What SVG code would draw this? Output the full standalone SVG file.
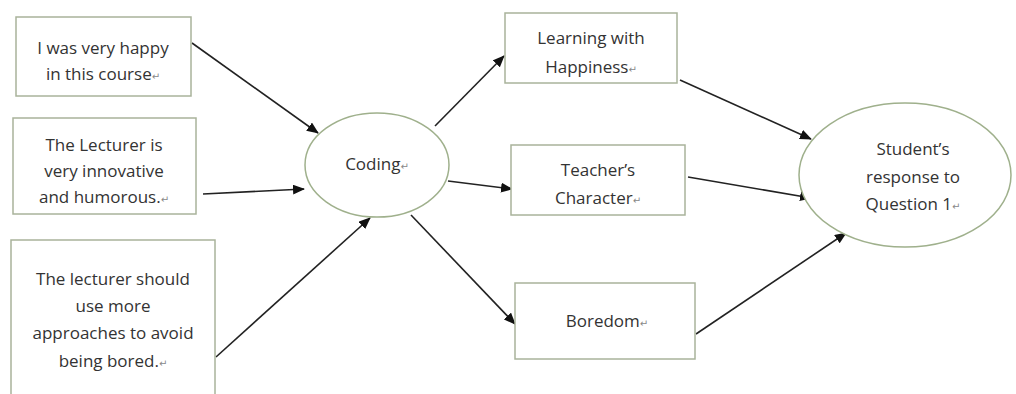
<svg xmlns="http://www.w3.org/2000/svg" width="1016" height="394" viewBox="0 0 1016 394">
<style>
.box{fill:#fff;stroke:#a9b39b;stroke-width:1.5}
.ell{fill:#fff;stroke:#9fb08c;stroke-width:1.5}
.t{font-family:"Open Sans","Noto Sans",sans-serif;font-size:17px;fill:#333;text-anchor:middle}
.r{font-family:"DejaVu Sans",sans-serif;font-size:10px;fill:#888}
.c{stroke:#222;stroke-width:1.6;fill:none;marker-end:url(#ah)}
</style>
<defs>
<marker id="ah" viewBox="0 0 12 10" refX="11" refY="5" markerWidth="12" markerHeight="10" markerUnits="userSpaceOnUse" orient="auto">
<path d="M0,0 L12,5 L0,10 z" fill="#111"/>
</marker>
</defs>
<rect width="1016" height="394" fill="#fff"/>
<g id="connectors">
<line class="c" x1="192" y1="43" x2="318" y2="133"/>
<line class="c" x1="203" y1="194" x2="304" y2="189"/>
<line class="c" x1="216" y1="357" x2="370" y2="218"/>
<line class="c" x1="435" y1="126" x2="504" y2="56"/>
<line class="c" x1="448" y1="181" x2="512" y2="189"/>
<line class="c" x1="411" y1="215" x2="515" y2="324"/>
<line class="c" x1="680" y1="80" x2="811" y2="139"/>
<line class="c" x1="688" y1="177" x2="811" y2="198"/>
<line class="c" x1="696" y1="334" x2="846" y2="233"/>
</g>
<g id="n1">
<rect class="box" x="16" y="17" width="175" height="79"/>
<text class="t" x="103" y="54">I was very happy</text>
<text class="t" x="103" y="80">in this course<tspan class="r">↵</tspan></text>
</g>
<g id="n2">
<rect class="box" x="13" y="118" width="183" height="96"/>
<text class="t" x="104" y="151">The Lecturer is</text>
<text class="t" x="104" y="177">very innovative</text>
<text class="t" x="104" y="203">and humorous.<tspan class="r">↵</tspan></text>
</g>
<g id="n3">
<rect class="box" x="11" y="240" width="204" height="160"/>
<text class="t" x="113" y="285">The lecturer should</text>
<text class="t" x="113" y="312">use more</text>
<text class="t" x="113" y="339">approaches to avoid</text>
<text class="t" x="113" y="367">being bored.<tspan class="r">↵</tspan></text>
</g>
<g id="coding">
<ellipse class="ell" cx="377" cy="165" rx="72" ry="52"/>
<text class="t" x="377" y="170">Coding<tspan class="r">↵</tspan></text>
</g>
<g id="learning">
<rect class="box" x="505" y="13" width="172" height="70"/>
<text class="t" x="591" y="44">Learning with</text>
<text class="t" x="591" y="73">Happiness<tspan class="r">↵</tspan></text>
</g>
<g id="teacher">
<rect class="box" x="511" y="145" width="174" height="70"/>
<text class="t" x="598" y="176">Teacher’s</text>
<text class="t" x="598" y="204">Character<tspan class="r">↵</tspan></text>
</g>
<g id="boredom">
<rect class="box" x="515" y="283" width="180" height="76"/>
<text class="t" x="607" y="327">Boredom<tspan class="r">↵</tspan></text>
</g>
<g id="student">
<ellipse class="ell" cx="905" cy="175" rx="106" ry="72"/>
<text class="t" x="913" y="155">Student’s</text>
<text class="t" x="913" y="183">response to</text>
<text class="t" x="913" y="210">Question 1<tspan class="r">↵</tspan></text>
</g>
</svg>
